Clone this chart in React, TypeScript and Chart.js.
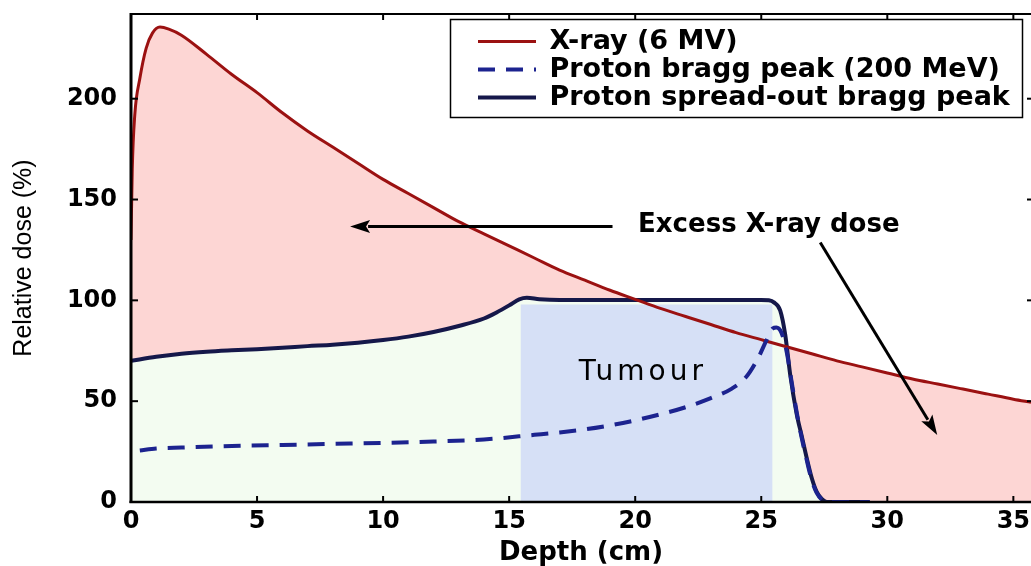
import React, { useEffect, useRef } from 'react';
import { Chart, registerables } from 'chart.js';

Chart.register(...registerables);

// ---------- data ----------
const seriesLabels = ['X-ray (6 MV)', 'Proton bragg peak (200 MeV)', 'Proton spread-out bragg peak'];

const xrayDepth = [0, 0.05, 0.15, 0.35, 0.6, 0.85, 1.15, 1.5, 2, 3, 4, 5, 6, 7, 8, 9, 10, 11, 12, 13, 14, 15, 16, 17, 18, 19, 20, 21, 22, 23, 24, 25, 26, 27, 28, 29, 30, 31, 32, 33, 34, 35, 35.7];
const xrayDose = [130, 165, 192, 210, 225, 232.5, 235.5, 234.5, 231.5, 222, 212, 203, 193, 184, 176, 168, 160, 153, 146, 139, 133, 127, 121, 115, 110, 105, 100.5, 96, 92, 88, 84, 80.5, 77, 73.5, 70, 67, 64, 61, 58.5, 56, 53.5, 51, 49.5];

const braggDepth = [0.35, 1, 2, 4, 6, 8, 10, 12, 14, 16, 17, 18, 19, 20, 21, 22, 23, 23.8, 24.4, 24.9, 25.2, 25.45, 25.6, 25.8, 26.0, 26.2, 26.4, 26.6, 26.8, 27.0, 27.2, 27.4, 27.6, 29.3];
const braggDose = [25.5, 26.5, 27, 27.8, 28.3, 28.8, 29.3, 30, 31, 33.3, 34.5, 36, 38, 40.5, 43.5, 47, 51.5, 56, 62, 72, 80, 86, 86.5, 84, 75, 60, 45, 32, 21, 11, 4.5, 1.2, 0, 0];

const sobpDepth = [0, 1, 2, 3, 4, 5, 6, 7, 8, 9, 10, 11, 12, 13, 14, 14.5, 15, 15.4, 15.7, 16.2, 17, 18, 19, 20, 21, 22, 23, 24, 25, 25.3, 25.5, 25.75, 25.95, 26.15, 26.4, 26.6, 26.8, 27.0, 27.2, 27.4, 27.6, 29.3, 35.7];
const sobpDose = [70, 72, 73.5, 74.5, 75.2, 75.8, 76.5, 77.3, 78, 79, 80.3, 82, 84.3, 87.3, 91, 94, 97.5, 100.5, 101.3, 100.6, 100.2, 100.2, 100.2, 100.2, 100.2, 100.2, 100.2, 100.2, 100.2, 100, 99, 95, 83, 63, 44, 33, 22, 12, 5, 1.5, 0, 0, 0];
const sobpLineEnd = 29.3; // the drawn SOBP line stops here; beyond it the series only bounds the fill

const tumourDepth = [15.45, 25.45];
const tumourDose = [98, 98];

const xTickValues = [0, 5, 10, 15, 20, 25, 30, 35];
const yTickValues = [0, 50, 100, 150, 200];

// ---------- styles ----------
const XRAY = '#9b1111';
const BRAGG = '#1c238f';
const SOBP = '#15184a';
const PINK = '#fdd6d4';
const GREEN = '#f3fcf1';
const BLUE = '#d6e0f6';
const FONT = "'DejaVu Sans', 'Liberation Sans', sans-serif";

const toXY = (xs: number[], ys: number[]) => xs.map((x, i) => ({ x, y: ys[i] }));

function line(ctx: CanvasRenderingContext2D, x1: number, y1: number, x2: number, y2: number) {
  ctx.beginPath();
  ctx.moveTo(x1, y1);
  ctx.lineTo(x2, y2);
  ctx.stroke();
}

function arrow(ctx: CanvasRenderingContext2D, x1: number, y1: number, x2: number, y2: number) {
  const ang = Math.atan2(y2 - y1, x2 - x1);
  const hl = 20;
  const hw = 6.5;
  const bx = x2 - hl * Math.cos(ang);
  const by = y2 - hl * Math.sin(ang);
  ctx.lineWidth = 3;
  line(ctx, x1, y1, bx + 2 * Math.cos(ang), by + 2 * Math.sin(ang));
  ctx.beginPath();
  ctx.moveTo(x2, y2);
  ctx.lineTo(bx + hw * Math.sin(ang), by - hw * Math.cos(ang));
  ctx.lineTo(bx + 4 * Math.cos(ang), by + 4 * Math.sin(ang));
  ctx.lineTo(bx - hw * Math.sin(ang), by + hw * Math.cos(ang));
  ctx.closePath();
  ctx.fill();
}

const decor = {
  id: 'decor',
  afterLayout(chart: any) {
    const lg = chart.legend;
    if (!lg) return;
    lg.left = 477;
    lg.top = 27;
    lg.right = 1031;
    lg.bottom = 140;
  },
  beforeDatasetDraw(chart: any, args: any) {
    if (args.index !== 2) return;
    const { ctx, chartArea: a } = chart;
    ctx.save();
    ctx.beginPath();
    ctx.rect(a.left - 5, 0, chart.scales.x.getPixelForValue(sobpLineEnd) - a.left + 5, chart.height);
    ctx.clip();
  },
  afterDatasetDraw(chart: any, args: any) {
    if (args.index !== 2) return;
    chart.ctx.restore();
  },
  afterDraw(chart: any) {
    const { ctx, chartArea: a, scales } = chart;
    const x = scales.x;
    const y = scales.y;
    ctx.save();
    ctx.strokeStyle = '#000';
    ctx.fillStyle = '#000';
    ctx.lineCap = 'butt';
    // frame
    ctx.lineWidth = 2;
    line(ctx, a.left, a.top, a.right, a.top);
    ctx.lineWidth = 2.5;
    line(ctx, a.left - 1.5, a.bottom, a.right, a.bottom);
    ctx.lineWidth = 3;
    line(ctx, a.left, a.top - 1, a.left, a.bottom + 1);
    // inward tick marks
    ctx.lineWidth = 2;
    x.ticks.forEach((t: any) => {
      const px = x.getPixelForValue(t.value);
      line(ctx, px, a.bottom, px, a.bottom - 6);
      line(ctx, px, a.top, px, a.top + 6);
    });
    y.ticks.forEach((t: any) => {
      const py = y.getPixelForValue(t.value);
      line(ctx, a.left, py, a.left + 7, py);
      line(ctx, a.right, py, a.right - 4, py);
    });
    // legend frame
    ctx.lineWidth = 1.5;
    ctx.strokeRect(450.5, 19.5, 572, 98);
    // annotations
    ctx.font = `bold 26px ${FONT}`;
    ctx.textAlign = 'center';
    ctx.textBaseline = 'middle';
    ctx.fillText('Excess X-ray dose', x.getPixelForValue(25.3), y.getPixelForValue(137));
    arrow(ctx, x.getPixelForValue(19.1), y.getPixelForValue(136.6), x.getPixelForValue(8.69), y.getPixelForValue(136.6));
    arrow(ctx, x.getPixelForValue(27.34), y.getPixelForValue(128.7), x.getPixelForValue(31.98), y.getPixelForValue(33.2));
    ctx.font = `28px ${FONT}`;
    (ctx as any).letterSpacing = '4px';
    ctx.fillText('Tumour', x.getPixelForValue(20.3), y.getPixelForValue(64));
    ctx.restore();
  },
};

export default function App() {
  const ref = useRef<HTMLCanvasElement>(null);
  useEffect(() => {
    document.body.style.margin = '0';
    const canvas = ref.current!;
    const chart = new Chart(canvas, {
      type: 'line',
      data: {
        datasets: [
          {
            label: seriesLabels[0],
            data: toXY(xrayDepth, xrayDose),
            borderColor: XRAY,
            backgroundColor: PINK,
            borderWidth: 3,
            pointRadius: 0,
            cubicInterpolationMode: 'monotone',
            fill: { target: 2, above: PINK, below: 'rgba(0,0,0,0)' },
            order: 1,
          },
          {
            label: seriesLabels[1],
            data: toXY(braggDepth, braggDose),
            borderColor: BRAGG,
            backgroundColor: BRAGG,
            borderWidth: 4,
            borderDash: [17, 11],
            pointRadius: 0,
            cubicInterpolationMode: 'monotone',
            fill: false,
            order: 0,
          },
          {
            label: seriesLabels[2],
            data: toXY(sobpDepth, sobpDose),
            borderColor: SOBP,
            backgroundColor: GREEN,
            borderWidth: 4,
            pointRadius: 0,
            cubicInterpolationMode: 'monotone',
            fill: 'origin',
            order: 3,
          },
          {
            label: 'Tumour',
            data: toXY(tumourDepth, tumourDose),
            borderColor: 'rgba(0,0,0,0)',
            backgroundColor: BLUE,
            borderWidth: 0,
            pointRadius: 0,
            fill: 'origin',
            order: 2,
          },
        ],
      } as any,
      options: {
        responsive: false,
        animation: false,
        devicePixelRatio: 1,
        layout: { padding: { top: 14, left: 0, right: 0, bottom: 0 } },
        scales: {
          x: {
            type: 'linear',
            min: 0,
            max: 35.7,
            grid: { display: false, drawTicks: false },
            border: { display: false },
            afterBuildTicks: (s: any) => {
              s.ticks = xTickValues.map((v) => ({ value: v }));
            },
            ticks: {
              color: '#000',
              padding: 5,
              maxRotation: 0,
              autoSkip: false,
              font: { family: FONT, size: 24, weight: 'bold', lineHeight: 1.2 },
            },
            title: {
              display: true,
              text: 'Depth (cm)',
              color: '#000',
              font: { family: FONT, size: 26, weight: 'bold', lineHeight: 1 },
              padding: { top: 0, bottom: 0 },
            },
            afterFit: (s: any) => {
              s.height = 64;
              s.paddingLeft = 0;
              s.paddingRight = 0;
            },
          },
          y: {
            type: 'linear',
            min: 0,
            max: 242,
            grid: { display: false, drawTicks: false },
            border: { display: false },
            afterBuildTicks: (s: any) => {
              s.ticks = yTickValues.map((v) => ({ value: v }));
            },
            ticks: {
              color: '#000',
              padding: 14,
              autoSkip: false,
              font: { family: FONT, size: 24, weight: 'bold', lineHeight: 1.2 },
            },
            title: {
              display: true,
              text: 'Relative dose (%)',
              color: '#000',
              font: { family: "'Liberation Sans', Arial, sans-serif", size: 25, weight: 'normal', lineHeight: 1 },
              padding: { top: 12, bottom: 0 },
            },
            afterFit: (s: any) => {
              s.width = 131;
              s.paddingTop = 0;
              s.paddingBottom = 0;
            },
          },
        },
        plugins: {
          filler: { propagate: false, drawTime: 'beforeDatasetsDraw' },
          tooltip: { enabled: false },
          legend: {
            position: 'chartArea',
            align: 'start',
            labels: {
              color: '#000',
              font: { family: FONT, size: 27, weight: 'bold' },
              usePointStyle: true,
              pointStyle: 'line',
              pointStyleWidth: 58,
              padding: 1,
              generateLabels: (ch: any) => {
                const items = (Chart.defaults.plugins.legend.labels as any).generateLabels(ch);
                return items
                  .filter((it: any) => it.datasetIndex < 3)
                  .map((it: any) => {
                    const ds = ch.data.datasets[it.datasetIndex];
                    return {
                      ...it,
                      lineWidth: ds.borderWidth,
                      lineDash: ds.borderDash || [],
                      strokeStyle: ds.borderColor,
                      fontColor: '#000',
                      pointStyle: 'line',
                    };
                  })
                  .sort((p: any, q: any) => p.datasetIndex - q.datasetIndex);
              },
            },
          },
        },
      } as any,
      plugins: [decor],
    });
    return () => chart.destroy();
  }, []);
  return (
    <div style={{ width: 1031, height: 566 }}>
      <canvas ref={ref} width={1031} height={566} style={{ display: 'block' }} />
    </div>
  );
}
